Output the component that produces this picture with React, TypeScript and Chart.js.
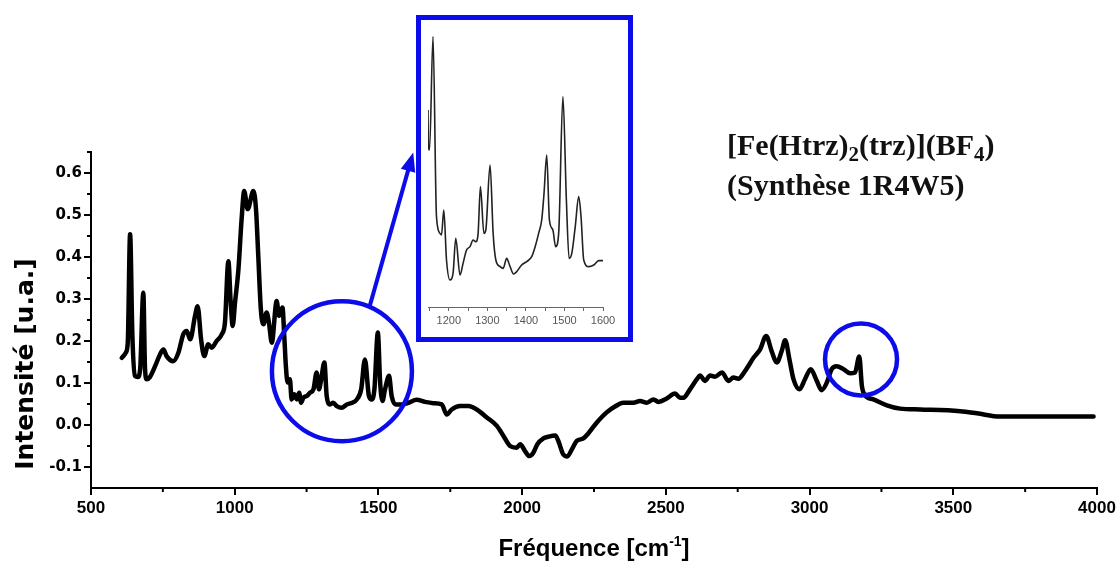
import React, { useEffect, useRef } from 'react';
import { Chart, registerables } from 'chart.js';

Chart.register(...registerables);

// ---- Main spectrum (wavenumber cm-1, intensity u.a.) ----
const wavenumbers = [
  607, 621, 628, 636, 644, 653, 663, 671, 682, 688, 694, 705, 723, 740, 752, 763, 786, 804, 821, 833,
  845, 862, 871, 883, 894, 908, 920, 937, 955, 966, 978, 986, 993, 1001, 1013, 1024, 1033, 1045, 1065, 1074,
  1082, 1091, 1100, 1111, 1119, 1129, 1146, 1154, 1166, 1173, 1178, 1184, 1192, 1198, 1207, 1216, 1224, 1231, 1239, 1251,
  1262, 1274, 1285, 1293, 1300, 1312, 1320, 1332, 1343, 1355, 1372, 1390, 1409, 1425, 1440, 1453, 1467, 1477, 1486, 1498,
  1506, 1514, 1523, 1537, 1546, 1560, 1581, 1604, 1633, 1662, 1691, 1720, 1738, 1755, 1784, 1813, 1842, 1877, 1912, 1935,
  1958, 1981, 1993, 2010, 2025, 2039, 2053, 2074, 2091, 2115, 2126, 2143, 2157, 2173, 2190, 2213, 2230, 2260, 2294, 2323,
  2352, 2387, 2410, 2434, 2457, 2474, 2503, 2532, 2549, 2561, 2584, 2608, 2619, 2636, 2654, 2671, 2695, 2718, 2735, 2752,
  2776, 2805, 2828, 2849, 2868, 2886, 2903, 2915, 2930, 2944, 2965, 2984, 3004, 3025, 3042, 3060, 3077, 3094, 3118, 3141,
  3158, 3173, 3182, 3193, 3222, 3269, 3315, 3385, 3524, 3582, 3663, 3756, 3988,
];
const intensity = [
  0.160, 0.172, 0.197, 0.454, 0.212, 0.117, 0.114, 0.133, 0.315, 0.133, 0.109, 0.114, 0.140, 0.168, 0.180, 0.164, 0.152, 0.172, 0.216, 0.224,
  0.204, 0.260, 0.283, 0.204, 0.164, 0.192, 0.184, 0.200, 0.216, 0.244, 0.390, 0.291, 0.236, 0.291, 0.371, 0.490, 0.557, 0.514, 0.557, 0.514,
  0.402, 0.275, 0.240, 0.268, 0.244, 0.196, 0.295, 0.260, 0.280, 0.204, 0.140, 0.101, 0.109, 0.061, 0.073, 0.061, 0.077, 0.053, 0.065, 0.069,
  0.077, 0.085, 0.125, 0.085, 0.105, 0.149, 0.069, 0.049, 0.053, 0.045, 0.041, 0.049, 0.053, 0.061, 0.085, 0.156, 0.069, 0.061, 0.085, 0.220,
  0.101, 0.057, 0.085, 0.117, 0.069, 0.049, 0.049, 0.053, 0.060, 0.055, 0.052, 0.049, 0.025, 0.037, 0.045, 0.045, 0.037, 0.018, -0.002, -0.026,
  -0.050, -0.054, -0.046, -0.062, -0.074, -0.066, -0.046, -0.032, -0.028, -0.025, -0.038, -0.070, -0.075, -0.058, -0.038, -0.032, -0.020, 0.006, 0.030, 0.044,
  0.053, 0.053, 0.057, 0.053, 0.061, 0.055, 0.063, 0.075, 0.065, 0.065, 0.085, 0.109, 0.118, 0.105, 0.118, 0.115, 0.125, 0.105, 0.113, 0.110,
  0.129, 0.160, 0.180, 0.212, 0.176, 0.149, 0.176, 0.202, 0.156, 0.109, 0.085, 0.109, 0.133, 0.105, 0.083, 0.101, 0.133, 0.140, 0.133, 0.123,
  0.125, 0.163, 0.093, 0.071, 0.061, 0.047, 0.039, 0.037, 0.033, 0.028, 0.020, 0.020, 0.020,
];

// ---- Inset (zoom 1150-1600 cm-1, arbitrary units) ----
const insetWavenumbers = [
  1146, 1147, 1150, 1159, 1168, 1177, 1181, 1187, 1194, 1203, 1211, 1218, 1229, 1237, 1246, 1255, 1263, 1270, 1276, 1282,
  1291, 1296, 1307, 1315, 1322, 1333, 1341, 1350, 1359, 1368, 1376, 1389, 1402, 1415, 1424, 1433, 1441, 1447, 1454, 1461,
  1470, 1477, 1485, 1496, 1505, 1512, 1519, 1528, 1537, 1543, 1550, 1563, 1576, 1589, 1600,
];
const insetIntensity = [
  0.670, 0.560, 0.550, 0.890, 0.350, 0.300, 0.295, 0.370, 0.220, 0.160, 0.180, 0.285, 0.175, 0.210, 0.250, 0.260, 0.280, 0.275, 0.300, 0.440,
  0.300, 0.310, 0.505, 0.300, 0.220, 0.200, 0.195, 0.225, 0.200, 0.178, 0.185, 0.205, 0.215, 0.230, 0.260, 0.300, 0.340, 0.420, 0.535, 0.340,
  0.310, 0.260, 0.300, 0.710, 0.400, 0.225, 0.240, 0.320, 0.410, 0.350, 0.220, 0.200, 0.205, 0.218, 0.218,
];

// ---- Ticks ----
const xTicks = [500, 1000, 1500, 2000, 2500, 3000, 3500, 4000];
const xMinorTicks = [750, 1250, 1750, 2250, 2750, 3250, 3750];
const yTicks = [-0.1, 0.0, 0.1, 0.2, 0.3, 0.4, 0.5, 0.6];
const yMinorTicks = [-0.05, 0.05, 0.15, 0.25, 0.35, 0.45, 0.55, 0.65];
const insetTicks = [1150, 1200, 1250, 1300, 1350, 1400, 1450, 1500, 1550, 1600];
const insetLabels = [1200, 1300, 1400, 1500, 1600];

// ---- Texts ----
const xTitle = 'Fréquence [cm';
const xTitleSup = '-1';
const yTitle = 'Intensité [u.a.]';
const compoundParts = [
  ['[Fe(Htrz)', false],
  ['2', true],
  ['(trz)](BF', false],
  ['4', true],
  [')', false],
] as [string, boolean][];
const synthesisLabel = '(Synthèse 1R4W5)';

// ---- Annotation anchors (data units) ----
const circleCenters = [
  { x: 1373, y: 0.128, r: 70 },
  { x: 3179, y: 0.156, r: 36 },
];
const arrowTip = { x: 1621, y: 0.649 };

const BLUE = 'rgb(12,12,235)';

function drawRich(ctx: CanvasRenderingContext2D, parts: { t: string; font: string; dy: number }[], x: number, y: number, align: 'left' | 'center') {
  let w = 0;
  parts.forEach((p) => {
    ctx.font = p.font;
    w += ctx.measureText(p.t).width;
  });
  let cx = align === 'center' ? x - w / 2 : x;
  ctx.textAlign = 'left';
  ctx.textBaseline = 'alphabetic';
  parts.forEach((p) => {
    ctx.font = p.font;
    ctx.fillText(p.t, cx, y + p.dy);
    cx += ctx.measureText(p.t).width;
  });
}

const decorPlugin = {
  id: 'decor',
  afterDraw(chart: any) {
    const { ctx, chartArea, scales } = chart;
    const x = scales.x;
    const y = scales.y;
    ctx.save();
    // minor ticks
    ctx.strokeStyle = '#000';
    ctx.lineWidth = 2;
    ctx.beginPath();
    xMinorTicks.forEach((v) => {
      const px = x.getPixelForValue(v);
      ctx.moveTo(px, chartArea.bottom);
      ctx.lineTo(px, chartArea.bottom + 4);
    });
    yMinorTicks.forEach((v) => {
      const py = y.getPixelForValue(v);
      ctx.moveTo(chartArea.left, py);
      ctx.lineTo(chartArea.left - 4, py);
    });
    ctx.stroke();

    // axis titles
    ctx.fillStyle = '#000';
    ctx.save();
    ctx.translate(33, 364);
    ctx.rotate(-Math.PI / 2);
    ctx.font = 'bold 25px "DejaVu Sans"';
    ctx.textAlign = 'center';
    ctx.textBaseline = 'alphabetic';
    ctx.fillText(yTitle, 0, 0);
    ctx.restore();

    drawRich(
      ctx,
      [
        { t: xTitle, font: 'bold 24px "Liberation Sans"', dy: 0 },
        { t: xTitleSup, font: 'bold 14px "Liberation Sans"', dy: -10 },
        { t: ']', font: 'bold 24px "Liberation Sans"', dy: 0 },
      ],
      (chartArea.left + chartArea.right) / 2,
      556,
      'center'
    );

    // compound label
    ctx.fillStyle = '#111';
    drawRich(
      ctx,
      compoundParts.map(([t, sub]) => ({
        t,
        font: sub ? 'bold 21px "Liberation Serif"' : 'bold 30px "Liberation Serif"',
        dy: sub ? 6 : 0,
      })),
      727,
      155,
      'left'
    );
    drawRich(ctx, [{ t: synthesisLabel, font: 'bold 30px "Liberation Serif"', dy: 0 }], 727, 195, 'left');

    // circles
    ctx.strokeStyle = BLUE;
    ctx.lineWidth = 4.5;
    circleCenters.forEach((c) => {
      ctx.beginPath();
      ctx.arc(x.getPixelForValue(c.x), y.getPixelForValue(c.y), c.r, 0, Math.PI * 2);
      ctx.stroke();
    });

    // arrow
    const c0 = circleCenters[0];
    const cx0 = x.getPixelForValue(c0.x);
    const cy0 = y.getPixelForValue(c0.y);
    const ang = (-66.8 * Math.PI) / 180;
    const sx = cx0 + c0.r * Math.cos(ang);
    const sy = cy0 + c0.r * Math.sin(ang);
    const tx = x.getPixelForValue(arrowTip.x);
    const ty = y.getPixelForValue(arrowTip.y);
    const len = Math.hypot(tx - sx, ty - sy);
    const dx = (tx - sx) / len;
    const dy = (ty - sy) / len;
    const nx = -dy;
    const ny = dx;
    ctx.lineWidth = 4;
    ctx.beginPath();
    ctx.moveTo(sx, sy);
    ctx.lineTo(tx - dx * 14, ty - dy * 14);
    ctx.stroke();
    ctx.fillStyle = BLUE;
    ctx.beginPath();
    ctx.moveTo(tx, ty);
    ctx.lineTo(tx - dx * 19 + nx * 7.5, ty - dy * 19 + ny * 7.5);
    ctx.lineTo(tx - dx * 19 - nx * 7.5, ty - dy * 19 - ny * 7.5);
    ctx.closePath();
    ctx.fill();

    ctx.restore();
  },
};

export default function App() {
  const mainRef = useRef<HTMLCanvasElement>(null);
  const insetRef = useRef<HTMLCanvasElement>(null);

  useEffect(() => {
    const main = new Chart(mainRef.current as HTMLCanvasElement, {
      type: 'line',
      data: {
        datasets: [
          {
            data: wavenumbers.map((w, i) => ({ x: w, y: intensity[i] })),
            borderColor: '#000',
            borderWidth: 4.5,
            pointRadius: 0,
            cubicInterpolationMode: 'monotone',
            borderJoinStyle: 'round',
            borderCapStyle: 'round',
            fill: false,
          } as any,
        ],
      },
      options: {
        responsive: false,
        animation: false,
        devicePixelRatio: 1,
        layout: { padding: { left: 0, right: 23, top: 152, bottom: 0 } },
        plugins: { legend: { display: false }, tooltip: { enabled: false }, title: { display: false } },
        scales: {
          x: {
            type: 'linear',
            min: 500,
            max: 4000,
            afterBuildTicks: (s: any) => {
              s.ticks = xTicks.map((v) => ({ value: v }));
            },
            afterFit: (s: any) => {
              s.height = 79;
            },
            ticks: {
              font: { family: 'Liberation Sans', weight: 'bold', size: 17 },
              color: '#000',
              padding: 3,
              maxRotation: 0,
              autoSkip: false,
              callback: (v: any) => String(v),
            },
            grid: { display: true, drawOnChartArea: false, drawTicks: true, tickLength: 7, color: '#000', lineWidth: 2 },
            border: { display: true, color: '#000', width: 2 },
          },
          y: {
            type: 'linear',
            min: -0.15,
            max: 0.65,
            afterBuildTicks: (s: any) => {
              s.ticks = yTicks.map((v) => ({ value: v }));
            },
            afterFit: (s: any) => {
              s.width = 91;
            },
            ticks: {
              font: { family: 'DejaVu Sans', weight: 'bold', size: 15 },
              color: '#000',
              padding: 2,
              autoSkip: false,
              callback: (v: any) => Number(v).toFixed(1),
            },
            grid: { display: true, drawOnChartArea: false, drawTicks: true, tickLength: 7, color: '#000', lineWidth: 2 },
            border: { display: true, color: '#000', width: 2 },
          },
        },
      } as any,
      plugins: [decorPlugin],
    });

    const inset = new Chart(insetRef.current as HTMLCanvasElement, {
      type: 'line',
      data: {
        datasets: [
          {
            data: insetWavenumbers.map((w, i) => ({ x: w, y: insetIntensity[i] })),
            borderColor: '#222',
            borderWidth: 1.6,
            pointRadius: 0,
            cubicInterpolationMode: 'monotone',
            fill: false,
          } as any,
        ],
      },
      options: {
        responsive: false,
        animation: false,
        devicePixelRatio: 1,
        layout: { padding: { left: 7, right: 25, top: 0, bottom: 0 } },
        plugins: { legend: { display: false }, tooltip: { enabled: false } },
        scales: {
          x: {
            type: 'linear',
            min: 1146,
            max: 1600,
            afterBuildTicks: (s: any) => {
              s.ticks = insetTicks.map((v) => ({ value: v }));
            },
            afterFit: (s: any) => {
              s.height = 30;
            },
            ticks: {
              font: { family: 'Liberation Sans', size: 11 },
              color: '#555',
              padding: 3,
              maxRotation: 0,
              autoSkip: false,
              callback: (v: any) => (insetLabels.includes(Number(v)) ? String(v) : ''),
            },
            grid: { display: true, drawOnChartArea: false, tickLength: 4, color: '#666', lineWidth: 1 },
            border: { display: true, color: '#666', width: 1 },
          },
          y: { display: false, min: 0.079, max: 0.94 },
        },
      } as any,
    });

    return () => {
      main.destroy();
      inset.destroy();
    };
  }, []);

  return (
    <div style={{ position: 'absolute', left: 0, top: 0, width: 1120, height: 567, background: '#fff' }}>
      <canvas ref={mainRef} width={1120} height={567} style={{ position: 'absolute', left: 0, top: 0 }} />
      <div
        style={{
          position: 'absolute',
          left: 416,
          top: 15,
          width: 207,
          height: 317,
          border: `5px solid ${BLUE}`,
          background: '#fff',
        }}
      >
        <canvas ref={insetRef} width={207} height={317} style={{ display: 'block' }} />
      </div>
    </div>
  );
}
